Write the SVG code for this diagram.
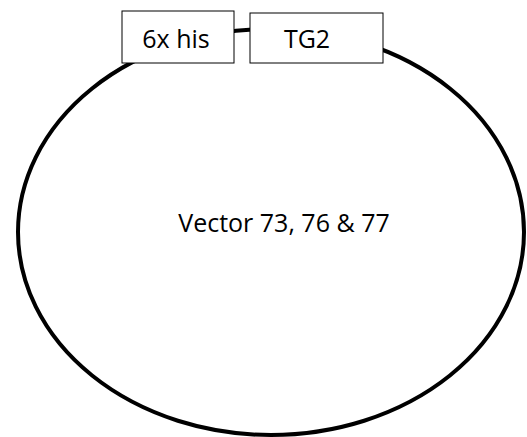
<svg xmlns="http://www.w3.org/2000/svg" width="527" height="437" viewBox="0 0 527 437">
<style>
.box{fill:#fff;stroke:#000;stroke-width:1}
.lbl{font-family:"Open Sans","Liberation Sans",sans-serif;font-size:25px;fill:#000;text-anchor:middle}
</style>
<rect width="527" height="437" fill="#fff"/>
<g id="connectors">
<ellipse id="plasmid" cx="271" cy="232" rx="253" ry="203" fill="none" stroke="#000" stroke-width="4"/>
</g>
<g id="node-6xhis">
<rect class="box" x="122" y="11" width="112" height="52"/>
<text class="lbl" x="176" y="48">6x his</text>
</g>
<g id="node-tg2">
<rect class="box" x="250" y="13" width="133" height="50"/>
<text class="lbl" x="307" y="48">TG2</text>
</g>
<g id="node-vector">
<text class="lbl" x="284" y="232">Vector 73, 76 &amp; 77</text>
</g>
</svg>
